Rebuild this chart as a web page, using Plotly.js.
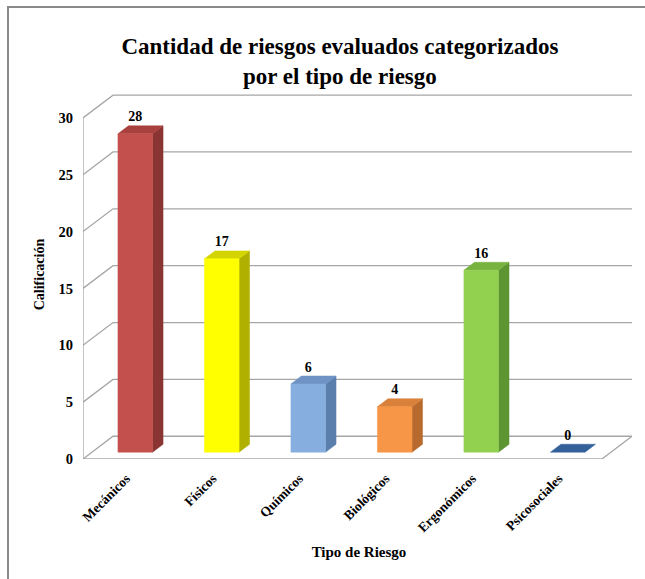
<!DOCTYPE html>
<html>
<head>
<meta charset="utf-8">
<script src="https://cdn.plot.ly/plotly-3.0.1.min.js"></script>
<style>
  html, body { margin: 0; padding: 0; background: #fff; }
  #chart { width: 645px; height: 579px; }
  #frame { position: absolute; left: 7px; top: 6px; width: 700px; height: 700px;
           border-left: 2px solid #8a8a8a; border-top: 2px solid #8a8a8a; pointer-events: none; }
</style>
</head>
<body>
<div id="chart"></div>
<div id="frame"></div>
<script>
// ---- data ----
const categories = ['Mecánicos', 'Físicos', 'Químicos', 'Biológicos', 'Ergonómicos', 'Psicosociales'];
const values = [28, 17, 6, 4, 16, 0];
const yTicks = [0, 5, 10, 15, 20, 25, 30];
const frontColors = ['#C4504D', '#FFFF00', '#86AEDE', '#F79646', '#92D050', '#34619A'];
const sideColors  = ['#8A3533', '#B0B000', '#5B7FAD', '#B86A2E', '#5E9533', '#244A78'];
const topColors   = ['#A8403E', '#D4D400', '#6E93C4', '#D9803A', '#78B340', '#2F5A8E'];

// ---- pseudo-3D projection (depth offsets in axis units) ----
const DX = 0.347, DY = 2.0;     // offset of the back wall relative to the front plane
const D0 = 0.30, D1 = 0.65;     // bar front / back depth
const B0 = 0.30, B1 = 0.70;     // bar left / right within category
const P = (x, y, d) => [x + d * DX, y + d * DY];
const nCat = categories.length;
const gridColor = '#A6A6A6';
const serif = 'Liberation Serif, Times New Roman, serif';

function poly(pts, color) {
  const xs = pts.map(p => p[0]); const ys = pts.map(p => p[1]);
  xs.push(xs[0]); ys.push(ys[0]);
  return { x: xs, y: ys, mode: 'lines', fill: 'toself', fillcolor: color,
           line: { width: 0.5, color: color }, hoverinfo: 'skip', showlegend: false };
}

const traces = [];

// walls / grid
const gx = [], gy = [];
yTicks.forEach(v => {
  const a = P(0, v, 0), b = P(0, v, 1), c = P(nCat, v, 1);
  gx.push(a[0], b[0], c[0], null); gy.push(a[1], b[1], c[1], null);
});
{
  const a = P(0, 0, 0), b = P(nCat, 0, 0), c = P(nCat, 0, 1);
  gx.push(a[0], b[0], c[0], null); gy.push(a[1], b[1], c[1], null);
  const t = P(0, yTicks[yTicks.length - 1], 0);
  gx.push(a[0], t[0], null); gy.push(a[1], t[1], null);
}
traces.push({ x: gx, y: gy, mode: 'lines', line: { color: gridColor, width: 1.3 },
              hoverinfo: 'skip', showlegend: false });

// bars
categories.forEach((c, i) => {
  const v = values[i];
  const xl = i + B0, xr = i + B1;
  const flb = P(xl, 0, D0), frb = P(xr, 0, D0), flt = P(xl, v, D0), frt = P(xr, v, D0);
  const brb = P(xr, 0, D1), blt = P(xl, v, D1), brt = P(xr, v, D1);
  if (v > 0) traces.push(poly([frb, brb, brt, frt], sideColors[i]));
  traces.push(poly([flt, frt, brt, blt], v > 0 ? topColors[i] : frontColors[i]));
  if (v > 0) traces.push(poly([flb, frb, frt, flt], frontColors[i]));
});

// data labels
traces.push({
  x: categories.map((c, i) => i + 0.5 + D0 * DX),
  y: values.map(v => v + 2.0),
  text: values.map(String), mode: 'text', textposition: 'middle center',
  textfont: { family: serif, size: 14, color: '#000', weight: 'bold' },
  hoverinfo: 'skip', showlegend: false
});

const layout = {
  width: 645, height: 579,
  margin: { l: 83, r: 10, t: 90, b: 120 },
  paper_bgcolor: '#fff', plot_bgcolor: '#fff',
  showlegend: false,
  title: {
    text: '<b>Cantidad de riesgos evaluados categorizados<br>por el tipo de riesgo</b>',
    font: { family: serif, size: 23, color: '#000' },
    xref: 'container', yref: 'container', x: 0.527, y: 0.907,
    xanchor: 'center', yanchor: 'middle'
  },
  xaxis: {
    range: [0, 6.382], tickvals: categories.map((c, i) => i + 0.5), ticktext: categories,
    tickangle: -45, tickfont: { family: serif, size: 13.5, color: '#000', weight: 'bold' },
    showgrid: false, zeroline: false, showline: false, ticks: '', ticklabelstandoff: 8,
    fixedrange: true,
    title: { text: '<b>Tipo de Riesgo</b>', font: { family: serif, size: 15, color: '#000' }, standoff: 12 }
  },
  yaxis: {
    range: [0, 32.45], tickvals: yTicks,
    tickfont: { family: serif, size: 14.5, color: '#000', weight: 'bold' },
    showgrid: false, zeroline: false, showline: false, ticks: '', ticklabelstandoff: 9,
    fixedrange: true,
    title: { text: '<b>Calificación</b>', font: { family: serif, size: 14, color: '#000' }, standoff: 10 }
  }
};

Plotly.newPlot('chart', traces, layout, { displayModeBar: false, staticPlot: true });
</script>
</body>
</html>
